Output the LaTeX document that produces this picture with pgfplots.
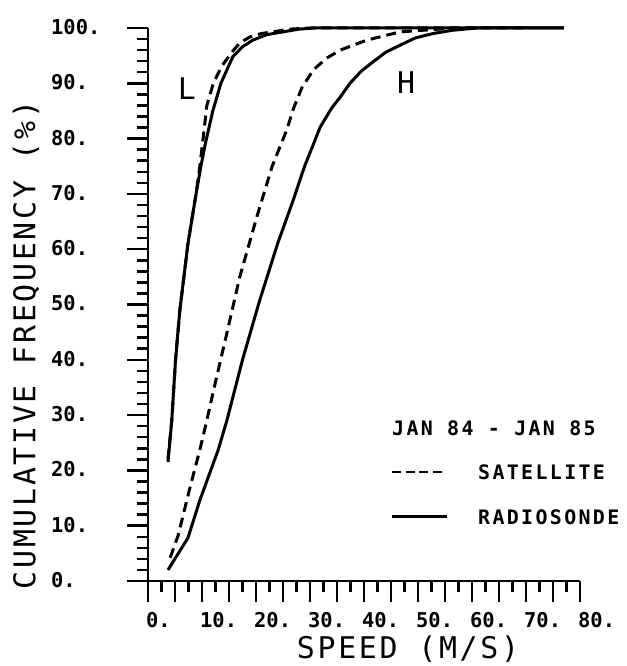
\documentclass[border=0pt]{standalone}
\usepackage{fontspec}
\usepackage{pgfplots}
\pgfplotsset{compat=1.18}
\newfontfamily\tickfont{DejaVu Sans Mono Bold}
\newfontfamily\labfont[LetterSpace=9]{DejaVu Sans Mono}
\newfontfamily\legfont[LetterSpace=11.8]{DejaVu Sans Mono Bold}
\begin{document}
\begin{tikzpicture}
\begin{axis}[
  at={(0,0)}, anchor=south west,
  scale only axis, width=432bp, height=553bp,
  xmin=0, xmax=80, ymin=0, ymax=100,
  axis lines=left, axis line style={-, line width=2.4bp},
  clip=false,
  tick align=outside,
  major tick length=21bp, minor tick length=11bp,
  every tick/.style={black, line width=2.5bp},
  every major tick/.style={black, line width=2.5bp},
  every minor tick/.style={black, line width=2.5bp},
  xtick={0,5,...,80},
  xticklabels={0.,{},10.,{},20.,{},30.,{},40.,{},50.,{},60.,{},70.,{},80.},
  minor x tick num=1,
  ytick={0,10,...,100},
  yticklabels={0.,10.,20.,30.,40.,50.,60.,70.,80.,90.,100.},
  minor y tick num=4,
  ticklabel style={font=\tickfont\fontsize{20.5}{20.5}\selectfont, inner sep=0pt},
  xticklabel style={anchor=north west, xshift=-2bp, yshift=-10bp},
  yticklabel style={anchor=west, xshift=-76bp, yshift=1bp},
]
% L radiosonde
\addplot[black, line width=3bp] coordinates {
(3.7,21.5) (4.4,29) (5.1,40) (5.9,49) (7.4,61) (8.9,70) (9.8,75) (10.6,79)
(12.0,85) (13.5,90) (15.7,94.8) (17.5,96.6) (19.4,97.8) (22,98.8) (25,99.3) (28,99.8) (31,100) (77,100)};
% L satellite
\addplot[black, line width=3bp, dash pattern=on 10bp off 6bp] coordinates {
(3.7,22) (4.4,29) (5.1,40) (5.9,49) (7.4,61) (8.9,70) (9.6,75) (10.2,80)
(10.9,86) (12.1,90) (13.6,93) (15.5,95.6) (17.0,97.3) (18.9,98.4) (21,99) (23.1,99.3) (26.3,99.8) (30,100) (60,100)};
% H satellite
\addplot[black, line width=3bp, dash pattern=on 10bp off 6bp] coordinates {
(4.1,4.2) (5.6,8.3) (7.8,17) (9.6,23.7) (10.6,27.8) (12.5,36) (14.6,44.8) (17,55)
(20.2,66) (23,75) (25.7,81.6) (27,85.6) (28.5,89.2) (30.6,92.4) (33,94.5) (35.6,96) (40.5,97.8)
(46.7,99.3) (54,99.8) (57,100) (70,100)};
% H radiosonde
\addplot[black, line width=3bp] coordinates {
(3.7,2) (7.4,7.8) (9.6,14.6) (13,23.7) (14.6,29) (17.5,40) (20.7,50.8) (24,61)
(26.9,68.9) (29,75) (31.9,82.1) (34,85.5) (35.6,87.5) (37.4,90) (39.5,92.2) (41.7,93.9) (44,95.6)
(46.7,96.9) (49.5,98.2) (52.8,99) (56.5,99.6) (60.9,100) (77,100)};
\node[font=\labfont\fontsize{30}{30}\selectfont, inner sep=0pt] at (axis cs:7.2,89) {L};
\node[font=\labfont\fontsize{30}{30}\selectfont, inner sep=0pt] at (axis cs:47.8,90.2) {H};
\end{axis}
\node[rotate=90, inner sep=0pt, font=\labfont\fontsize{30}{30}\selectfont] at (-122bp,236bp) {CUMULATIVE FREQUENCY (\%)};
\node[inner sep=0pt, font=\labfont\fontsize{30}{30}\selectfont] at (260bp,-68bp) {SPEED (M/S)};
\node[anchor=west, inner sep=0pt, font=\legfont\fontsize{20}{20}\selectfont] at (244bp,153bp) {JAN 84 - JAN 85};
\node[anchor=west, inner sep=0pt, font=\legfont\fontsize{20}{20}\selectfont] at (330bp,109bp) {SATELLITE};
\node[anchor=west, inner sep=0pt, font=\legfont\fontsize{20}{20}\selectfont] at (330bp,64bp) {RADIOSONDE};
\draw[line width=2.6bp, dash pattern=on 9bp off 4.7bp] (244bp,109bp) -- (294bp,109bp);
\draw[line width=3bp] (244bp,64bp) -- (299bp,64bp);
\pgfresetboundingbox
\useasboundingbox (-148bp,-85bp) rectangle (479bp,581bp);
\end{tikzpicture}
\end{document}
